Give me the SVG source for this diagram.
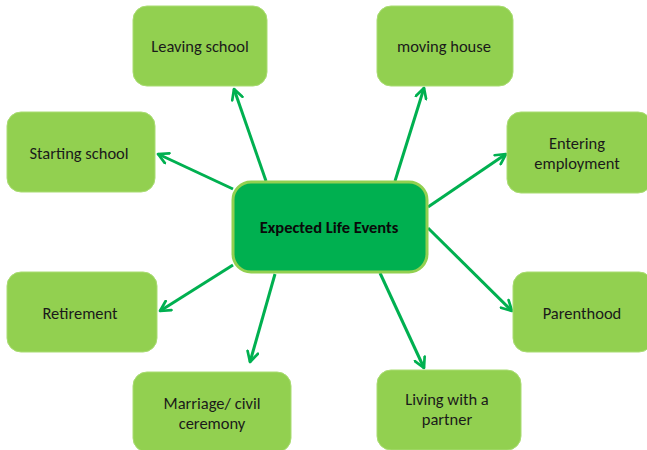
<svg xmlns="http://www.w3.org/2000/svg" width="647" height="450" viewBox="0 0 647 450">
<style>
.box{fill:#92D050;stroke:#A9DC72;stroke-width:1}
.lbl{font-family:Carlito,Lato,"Liberation Sans",sans-serif;font-size:16.5px;fill:#1A1A1A;text-anchor:middle}
.ctr{font-family:Carlito,Lato,"Liberation Sans",sans-serif;font-size:16.5px;font-weight:bold;fill:#0A0A0A;text-anchor:middle}
.arr{stroke:#00B050;stroke-width:3;fill:none;marker-end:url(#ah)}
</style>
<defs>
<marker id="ah" viewBox="0 0 10 10" refX="8.5" refY="5" markerWidth="4.5" markerHeight="4.5" orient="auto" markerUnits="strokeWidth">
<polyline points="1,1 8.5,5 1,9" fill="none" stroke="#00B050" stroke-width="2" stroke-linecap="round" stroke-linejoin="round"/>
</marker>
</defs>
<rect width="647" height="450" fill="#fff"/>
<g id="connectors">
<line class="arr" x1="266" y1="181" x2="234" y2="89"/>
<line class="arr" x1="395" y1="181" x2="424" y2="88"/>
<line class="arr" x1="233" y1="189" x2="158" y2="154"/>
<line class="arr" x1="428" y1="207" x2="506" y2="154"/>
<line class="arr" x1="233" y1="265" x2="160" y2="311"/>
<line class="arr" x1="428" y1="228" x2="512" y2="311"/>
<line class="arr" x1="275" y1="274" x2="250" y2="362"/>
<line class="arr" x1="380" y1="273" x2="424" y2="368"/>
</g>
<g id="leaving-school"><rect class="box" x="133" y="6" width="134" height="80" rx="14"/><text class="lbl" x="200" y="52">Leaving school</text></g>
<g id="moving-house"><rect class="box" x="377" y="6" width="136" height="80" rx="14"/><text class="lbl" x="444" y="52">moving house</text></g>
<g id="starting-school"><rect class="box" x="7" y="112" width="148" height="80" rx="14"/><text class="lbl" x="79" y="159">Starting school</text></g>
<g id="entering-employment"><rect class="box" x="507" y="112" width="145" height="81" rx="14"/><text class="lbl" x="577" y="149">Entering</text><text class="lbl" x="577" y="169">employment</text></g>
<g id="retirement"><rect class="box" x="7" y="272" width="150" height="80" rx="14"/><text class="lbl" x="80" y="319">Retirement</text></g>
<g id="parenthood"><rect class="box" x="513" y="272" width="140" height="80" rx="14"/><text class="lbl" x="582" y="319">Parenthood</text></g>
<g id="marriage"><rect class="box" x="133" y="372" width="158" height="80" rx="14"/><text class="lbl" x="212" y="409">Marriage/ civil</text><text class="lbl" x="212" y="429">ceremony</text></g>
<g id="living"><rect class="box" x="377" y="370" width="144" height="80" rx="14"/><text class="lbl" x="447" y="405">Living with a</text><text class="lbl" x="447" y="425">partner</text></g>
<g id="center"><rect x="233" y="182" width="194" height="90" rx="18" fill="#00B050" stroke="#92D050" stroke-width="3"/><text class="ctr" x="329" y="233">Expected Life Events</text></g>
</svg>
